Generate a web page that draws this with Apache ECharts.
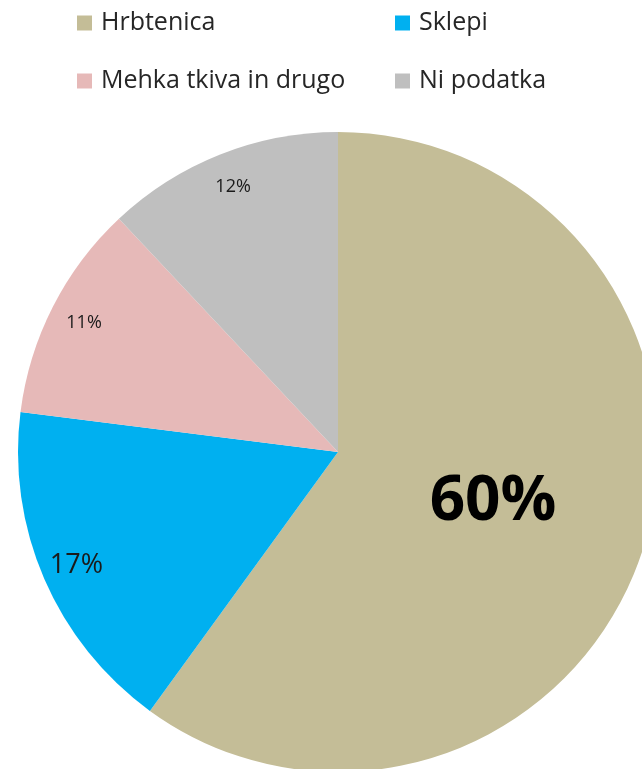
<!DOCTYPE html>
<html>
<head>
<meta charset="utf-8">
<script src="https://cdn.jsdelivr.net/npm/echarts@6/dist/echarts.min.js"></script>
<style>
  html, body { margin: 0; padding: 0; background: #fff; }
  #chart { width: 642px; height: 769px; }
</style>
</head>
<body>
<div id="chart"></div>
<script>
const categories = ['Hrbtenica', 'Sklepi', 'Mehka tkiva in drugo', 'Ni podatka'];
const values = [60, 17, 11, 12];
const colors = ['#C4BD97', '#00B0F0', '#E6B9B8', '#BFBFBF'];
const labelSizes = [62, 27, 18, 18];

const FONT = '"Open Sans", sans-serif';

const chart = echarts.init(document.getElementById('chart'), null, { renderer: 'canvas' });

const legendData = (idx) => idx.map((i) => ({
  name: categories[i],
  itemStyle: { color: colors[i] }
}));

const legendBase = {
  orient: 'vertical',
  top: 3,
  icon: 'rect',
  itemWidth: 15,
  itemHeight: 15,
  itemGap: 28,
  selectedMode: false,
  textStyle: {
    fontFamily: FONT,
    fontSize: 25,
    color: '#262626',
    lineHeight: 30,
    padding: [0, 0, 0, 4]
  }
};

// main pie: big label only on the largest slice
const mainData = categories.map((name, i) => ({
  name,
  value: values[i],
  itemStyle: { color: colors[i] },
  label: {
    show: i === 0,
    fontSize: labelSizes[i],
    fontWeight: 'bold'
  }
}));

// transparent ring used only to place the small labels near the rim
const ringData = categories.map((name, i) => ({
  name,
  value: values[i],
  label: {
    show: i !== 0,
    fontSize: labelSizes[i]
  }
}));

chart.setOption({
  animation: false,
  legend: [
    Object.assign({}, legendBase, { left: 72, data: legendData([0, 2]) }),
    Object.assign({}, legendBase, { left: 390, data: legendData([1, 3]) })
  ],
  series: [
    {
      type: 'pie',
      center: [338, 452],
      radius: [0, 320],
      startAngle: 90,
      clockwise: true,
      silent: true,
      label: {
        position: 'inside',
        formatter: '{d}%',
        fontFamily: FONT,
        color: '#000'
      },
      labelLine: { show: false },
      data: mainData
    },
    {
      type: 'pie',
      center: [338, 452],
      radius: [244, 320],
      startAngle: 90,
      clockwise: true,
      silent: true,
      itemStyle: { color: 'rgba(0,0,0,0)' },
      label: {
        position: 'inside',
        formatter: '{d}%',
        fontFamily: FONT,
        color: '#1a1a1a'
      },
      labelLine: { show: false },
      data: ringData
    }
  ]
});
</script>
</body>
</html>
